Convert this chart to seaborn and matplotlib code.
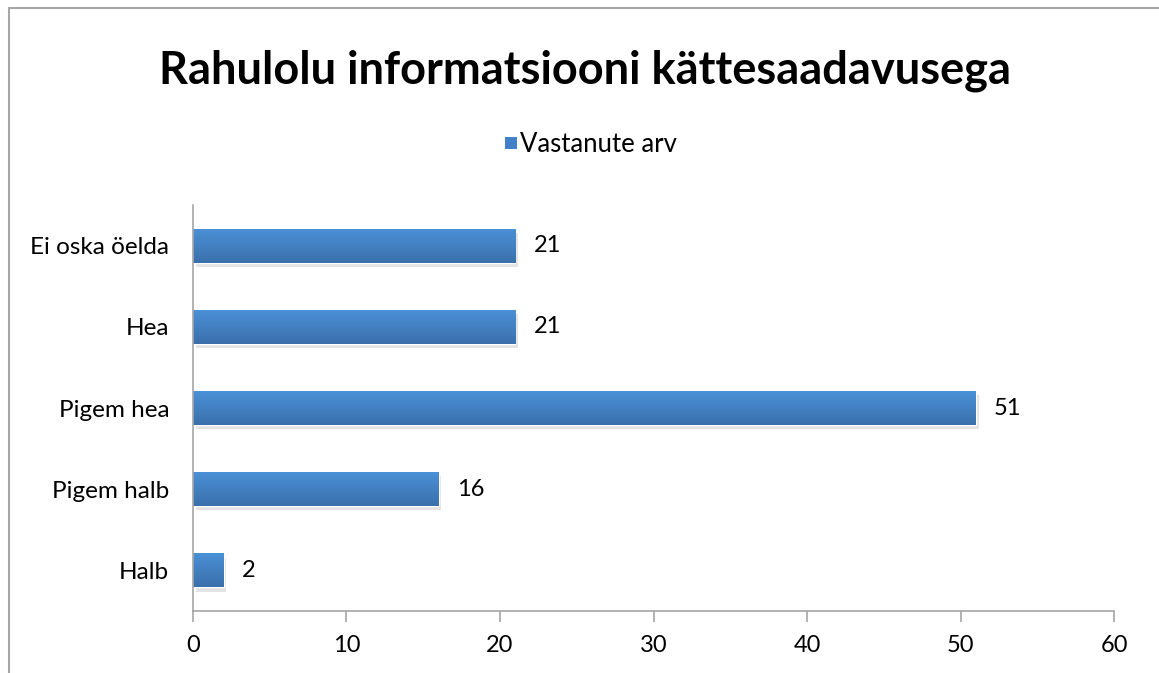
import numpy as np
import pandas as pd
import matplotlib.pyplot as plt
import matplotlib.patheffects as pe
import seaborn as sns

categories = ["Ei oska öelda", "Hea", "Pigem hea", "Pigem halb", "Halb"]
counts = [21, 21, 51, 16, 2]
series_name = "Vastanute arv"
x_ticks = [0, 10, 20, 30, 40, 50, 60]

df = pd.DataFrame({"Hinnang": categories, series_name: counts})

sns.set_style("white")
plt.rcParams["font.family"] = ["Lato", "DejaVu Sans"]
plt.rcParams["text.color"] = "black"

fig = plt.figure(figsize=(11.59, 6.73), dpi=100)
ax = fig.add_axes([0.1665, 0.0921, 0.7947, 0.6033])

sns.barplot(data=df, x=series_name, y="Hinnang", order=categories,
            color="#4281c8", width=0.42, saturation=1, ax=ax)

# gradient fill (light on top, darker below) + soft shadow
grad = np.linspace(0, 1, 64).reshape(-1, 1)
cmap = plt.matplotlib.colors.LinearSegmentedColormap.from_list(
    "bar", ["#4b92d8", "#3a6fab"])
for p in ax.patches:
    x0, y0 = p.get_x(), p.get_y()
    w, h = p.get_width(), p.get_height()
    p.set_path_effects([pe.SimplePatchShadow(offset=(2, -3), alpha=0.15, shadow_rgbFace="#444444"),
                        pe.Normal()])
    # y axis is inverted, so the first row of the image sits at the top
    im = ax.imshow(grad, cmap=cmap, aspect="auto", origin="upper",
                   extent=(x0, x0 + w, y0 + h, y0), zorder=p.get_zorder() + 0.1)
    im.set_clip_path(p)

ax.bar_label(ax.containers[0], labels=[str(v) for v in counts], padding=13, fontsize=17)

ax.set_xlim(0, 60)
ax.set_ylim(4.5, -0.5)
ax.set_xticks(x_ticks)
ax.set_xticklabels([str(t) for t in x_ticks], fontsize=17)
ax.tick_params(axis="y", labelsize=17.5, length=0, pad=17, labelcolor="black")
ax.tick_params(axis="x", direction="out", length=8, width=1.2, color="#a6a6a6", pad=9,
               bottom=True, labelcolor="black")
ax.set_xlabel("")
ax.set_ylabel("")
for s in ["top", "right"]:
    ax.spines[s].set_visible(False)
for s in ["left", "bottom"]:
    ax.spines[s].set_color("#a6a6a6")
    ax.spines[s].set_linewidth(1.2)

fig.text(0.505, 0.895, "Rahulolu informatsiooni kättesaadavusega", ha="center", va="center",
         fontsize=32.5, fontweight="bold")

# legend
fig.patches.append(plt.Rectangle((505 / 1159, 1 - 149 / 673), 12 / 1159, 12 / 673,
                                 transform=fig.transFigure, facecolor="#4281c8", edgecolor="none"))
fig.text(520 / 1159, 1 - 145 / 673, series_name, ha="left", va="center", fontsize=18.5)

# outer chart border
fig.add_artist(plt.Line2D([9 / 1159, 9 / 1159], [0, 1 - 8 / 673], transform=fig.transFigure,
                          color="#a6a6a6", lw=1.5))
fig.add_artist(plt.Line2D([9 / 1159, 1], [1 - 8 / 673, 1 - 8 / 673], transform=fig.transFigure,
                          color="#a6a6a6", lw=1.5))

fig.savefig("out.png", dpi=100)
plt.close(fig)
